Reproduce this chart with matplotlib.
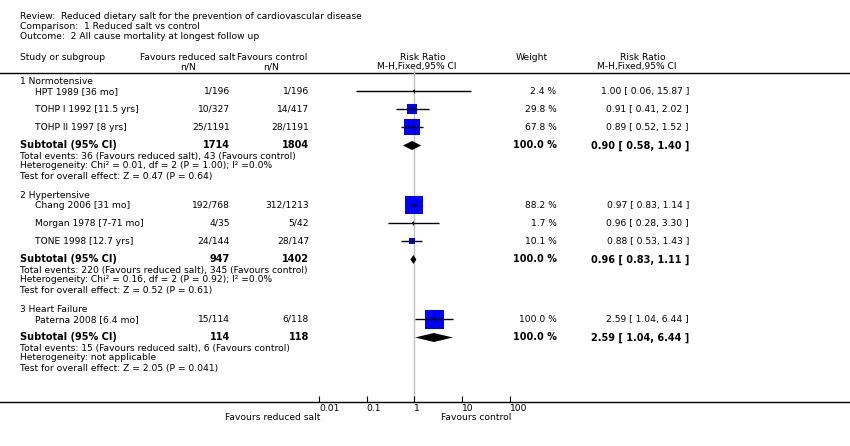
import numpy as np
import matplotlib
matplotlib.use("Agg")
import matplotlib.pyplot as plt
from matplotlib.ticker import FixedLocator, FixedFormatter, NullLocator

# --- data ---
title_lines = ["Review:  Reduced dietary salt for the prevention of cardiovascular disease",
               "Comparison:  1 Reduced salt vs control",
               "Outcome:  2 All cause mortality at longest follow up"]

group_names = ["1 Normotensive", "2 Hypertensive", "3 Heart Failure"]
studies = ["HPT 1989 [36 mo]", "TOHP I 1992 [11.5 yrs]", "TOHP II 1997 [8 yrs]",
           "Chang 2006 [31 mo]", "Morgan 1978 [7-71 mo]", "TONE 1998 [12.7 yrs]",
           "Paterna 2008 [6.4 mo]"]
study_group = [0, 0, 0, 1, 1, 1, 2]
treat_nN = ["1/196", "10/327", "25/1191", "192/768", "4/35", "24/144", "15/114"]
ctrl_nN = ["1/196", "14/417", "28/1191", "312/1213", "5/42", "28/147", "6/118"]
weights = [2.4, 29.8, 67.8, 88.2, 1.7, 10.1, 100.0]
rr = [1.00, 0.91, 0.89, 0.97, 0.96, 0.88, 2.59]
rr_lo = [0.06, 0.41, 0.52, 0.83, 0.28, 0.53, 1.04]
rr_hi = [15.87, 2.02, 1.52, 1.14, 3.30, 1.43, 6.44]

sub_treat_N = [1714, 947, 114]
sub_ctrl_N = [1804, 1402, 118]
sub_rr = [0.90, 0.96, 2.59]
sub_lo = [0.58, 0.83, 1.04]
sub_hi = [1.40, 1.11, 6.44]
events_treat = [36, 220, 15]
events_ctrl = [43, 345, 6]
heterogeneity = ["Heterogeneity: Chi\u00b2 = 0.01, df = 2 (P = 1.00); I\u00b2 =0.0%",
                 "Heterogeneity: Chi\u00b2 = 0.16, df = 2 (P = 0.92); I\u00b2 =0.0%",
                 "Heterogeneity: not applicable"]
overall = ["Test for overall effect: Z = 0.47 (P = 0.64)",
           "Test for overall effect: Z = 0.52 (P = 0.61)",
           "Test for overall effect: Z = 2.05 (P = 0.041)"]

xticks = [0.01, 0.1, 1, 10, 100]
xtick_labels = ["0.01", "0.1", "1", "10", "100"]

# --- layout (pixel coordinates) ---
W, H = 850, 446
FS = 6.6
FSB = 7.0
fig = plt.figure(figsize=(W / 100, H / 100), dpi=100)
ax = fig.add_axes([0, 0, 1, 1])
ax.set_xlim(0, W)
ax.set_ylim(H, 0)
ax.axis("off")

x_left, x_indent = 20, 35
x_treat, x_ctrl = 230, 309
x_weight, x_ci = 556.5, 689
y_axis = 401.7
plot_x0, plot_x1 = 319, 509.5  # pixels of 0.01 and 100
plot_top = 68

ax2 = fig.add_axes([plot_x0 / W, 1 - y_axis / H, (plot_x1 - plot_x0) / W, (y_axis - plot_top) / H])
ax2.set_xscale("log")
ax2.set_xlim(0.01, 100)
ax2.set_ylim(y_axis, plot_top)
ax2.patch.set_visible(False)
for s in ax2.spines.values():
    s.set_visible(False)
ax2.yaxis.set_visible(False)
ax2.xaxis.set_major_locator(FixedLocator(xticks))
ax2.xaxis.set_major_formatter(FixedFormatter(xtick_labels))
ax2.xaxis.set_minor_locator(NullLocator())
ax2.tick_params(axis="x", direction="in", length=4, width=0.8, pad=2, labelsize=FS)
for lbl in ax2.get_xticklabels():
    lbl.set_ha("left")
ax2.axvline(1, color="#c0c0c0", lw=1, zorder=0)

# titles
for i, t in enumerate(title_lines):
    ax.text(x_left, 16.5 + 10 * i, t, fontsize=FS, va="center")

# header
ax.text(x_left, 57, "Study or subgroup", fontsize=FS, va="center")
ax.text(140, 57, "Favours reduced salt", fontsize=FS, va="center")
ax.text(237, 57, "Favours control", fontsize=FS, va="center")
ax.text(188.5, 67, "n/N", fontsize=FS, va="center", ha="center")
ax.text(271.5, 67, "n/N", fontsize=FS, va="center", ha="center")
ax.text(423, 57, "Risk Ratio", fontsize=FS, va="center", ha="center")
ax.text(417, 67, "M-H,Fixed,95% CI", fontsize=FS, va="center", ha="center")
ax.text(532, 57, "Weight", fontsize=FS, va="center", ha="center")
ax.text(643, 57, "Risk Ratio", fontsize=FS, va="center", ha="center")
ax.text(637, 67, "M-H,Fixed,95% CI", fontsize=FS, va="center", ha="center")
ax.plot([0, W], [73, 73], color="black", lw=1)
ax.plot([0, W], [y_axis, y_axis], color="black", lw=1)

# rows
y = 82
for g, gname in enumerate(group_names):
    ax.text(x_left, y, gname, fontsize=FS, va="center")
    y += 9.5
    idx = [i for i, sg in enumerate(study_group) if sg == g]
    for k, i in enumerate(idx):
        if k > 0:
            y += 18
        ax.text(x_indent, y, studies[i], fontsize=FS, va="center")
        ax.text(x_treat, y, treat_nN[i], fontsize=FS, va="center", ha="right")
        ax.text(x_ctrl, y, ctrl_nN[i], fontsize=FS, va="center", ha="right")
        ax.text(x_weight, y, "%.1f %%" % weights[i], fontsize=FS, va="center", ha="right")
        ax.text(x_ci, y, "%.2f [ %.2f, %.2f ]" % (rr[i], rr_lo[i], rr_hi[i]),
                fontsize=FS, va="center", ha="right")
        ax2.hlines(y, rr_lo[i], rr_hi[i], color="black", lw=1, zorder=3)
        side = 1.9 * np.sqrt(weights[i]) * 0.72
        ax2.plot(rr[i], y, marker="s", ms=side, color="#0000ff", mew=0, zorder=2)
        ax2.plot(rr[i], y, marker="|", ms=3, color="black", mew=0.8, zorder=4)
    y += 18
    ax.text(x_left, y, "Subtotal (95% CI)", fontsize=FSB, va="center", fontweight="bold")
    ax.text(x_treat, y, str(sub_treat_N[g]), fontsize=FSB, va="center", ha="right", fontweight="bold")
    ax.text(x_ctrl, y, str(sub_ctrl_N[g]), fontsize=FSB, va="center", ha="right", fontweight="bold")
    ax.text(x_weight, y, "100.0 %", fontsize=FSB, va="center", ha="right", fontweight="bold")
    ax.text(x_ci, y, "%.2f [ %.2f, %.2f ]" % (sub_rr[g], sub_lo[g], sub_hi[g]),
            fontsize=FSB, va="center", ha="right", fontweight="bold")
    ax2.fill([sub_lo[g], sub_rr[g], sub_hi[g], sub_rr[g]], [y, y - 4.5, y, y + 4.5],
             color="black", lw=0, zorder=3)
    y += 10.5
    ax.text(x_left, y, "Total events: %d (Favours reduced salt), %d (Favours control)"
            % (events_treat[g], events_ctrl[g]), fontsize=FS, va="center")
    y += 10
    ax.text(x_left, y, heterogeneity[g], fontsize=FS, va="center")
    y += 10
    ax.text(x_left, y, overall[g], fontsize=FS, va="center")
    y += 20

# axis captions
ax.text(320, 417, "Favours reduced salt", fontsize=FS, va="center", ha="right")
ax.text(441, 417, "Favours control", fontsize=FS, va="center", ha="left")

fig.savefig("out.png", dpi=100)
